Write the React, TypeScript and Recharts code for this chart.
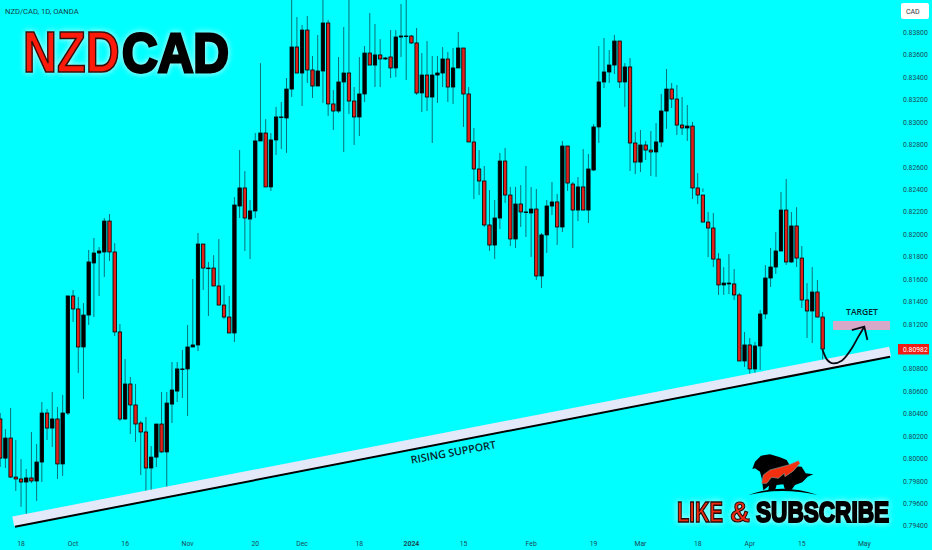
import React from "react";
import { ComposedChart, Bar, Line, XAxis, YAxis, ReferenceArea } from "recharts";

const opens = [0.80354,0.80005,0.80184,0.79836,0.79819,0.79792,0.79828,0.79801,0.79970,0.80407,0.80273,0.80354,0.79953,0.80407,0.81451,0.81335,0.80996,0.81281,0.81745,0.81834,0.81843,0.82119,0.81843,0.81130,0.80354,0.80666,0.80479,0.80318,0.80238,0.79917,0.80014,0.80309,0.80060,0.80487,0.80603,0.80795,0.80800,0.80996,0.81014,0.81914,0.81695,0.81700,0.81540,0.81370,0.81263,0.81121,0.82253,0.82414,0.82137,0.82209,0.82833,0.82904,0.82423,0.82842,0.83042,0.83038,0.83296,0.83671,0.83439,0.83822,0.83466,0.83323,0.83457,0.83885,0.83163,0.83100,0.83359,0.83439,0.83189,0.83047,0.83252,0.83617,0.83510,0.83600,0.83564,0.83582,0.83484,0.83760,0.83765,0.83769,0.83707,0.83261,0.83421,0.83225,0.83421,0.83439,0.83564,0.83314,0.83484,0.83662,0.83252,0.82824,0.82583,0.82476,0.82084,0.81905,0.82146,0.82654,0.82351,0.81959,0.82271,0.82195,0.82191,0.82226,0.81629,0.81995,0.82253,0.82289,0.82066,0.82788,0.82449,0.82217,0.82423,0.82217,0.82574,0.82958,0.83359,0.83448,0.83510,0.83724,0.83359,0.83493,0.82815,0.82645,0.82797,0.82752,0.82735,0.82824,0.83100,0.83296,0.83207,0.82975,0.82949,0.82966,0.82414,0.82351,0.82110,0.82057,0.81780,0.81549,0.81558,0.81558,0.81460,0.80871,0.81014,0.80800,0.81005,0.81290,0.81611,0.81709,0.81852,0.82217,0.81754,0.82075,0.81789,0.81415,0.81317,0.81486,0.81263];
const highs = [0.80407,0.80264,0.80452,0.80167,0.79996,0.79908,0.80238,0.80131,0.80505,0.80443,0.80595,0.80461,0.80568,0.81451,0.81504,0.81442,0.81388,0.81861,0.81968,0.81887,0.82146,0.82182,0.81923,0.81201,0.80889,0.80728,0.80666,0.80336,0.80372,0.80113,0.80309,0.80595,0.80595,0.80862,0.80862,0.80969,0.81192,0.81602,0.82012,0.81914,0.81754,0.81816,0.81959,0.81549,0.81451,0.82333,0.82752,0.82565,0.82307,0.82904,0.83528,0.83029,0.82904,0.83136,0.83180,0.83394,0.84090,0.83938,0.83867,0.83947,0.83591,0.83778,0.84090,0.83912,0.83287,0.83582,0.83849,0.84090,0.83314,0.83582,0.83680,0.83974,0.83876,0.83742,0.83582,0.83822,0.83822,0.84054,0.84090,0.83778,0.83840,0.83617,0.83724,0.83591,0.83591,0.83671,0.83626,0.83662,0.83805,0.83662,0.83314,0.82949,0.82752,0.82610,0.82396,0.82307,0.82726,0.82770,0.82423,0.82423,0.82440,0.82610,0.82423,0.82405,0.82012,0.82307,0.82467,0.82360,0.82833,0.82788,0.82467,0.82512,0.82761,0.82717,0.82984,0.83680,0.83751,0.83644,0.83778,0.83724,0.83528,0.83573,0.82913,0.82931,0.82833,0.82922,0.82993,0.83252,0.83475,0.83350,0.83332,0.83225,0.83154,0.83002,0.82547,0.82378,0.82200,0.82191,0.81834,0.81709,0.81825,0.81691,0.81477,0.81130,0.81076,0.81040,0.81326,0.81727,0.81879,0.82021,0.82378,0.82494,0.82200,0.82244,0.81896,0.81566,0.81709,0.81593,0.81308];
const lows = [0.79926,0.79917,0.79828,0.79712,0.79571,0.79426,0.79783,0.79623,0.79792,0.80167,0.80104,0.79819,0.79845,0.80389,0.81219,0.80764,0.80532,0.81192,0.81263,0.81451,0.81620,0.81763,0.81094,0.80336,0.80345,0.80220,0.80149,0.79854,0.79667,0.79712,0.79926,0.80051,0.79747,0.80318,0.80505,0.80541,0.80381,0.80996,0.80960,0.81504,0.81272,0.81540,0.81370,0.81245,0.81121,0.81040,0.82146,0.81852,0.81780,0.82146,0.82833,0.82423,0.82387,0.82708,0.82761,0.82726,0.83225,0.83439,0.83145,0.83350,0.83216,0.83323,0.83172,0.83056,0.82931,0.83082,0.82735,0.83073,0.82797,0.82877,0.83180,0.83510,0.83314,0.83314,0.83555,0.83394,0.83403,0.83582,0.83377,0.83698,0.83243,0.83091,0.83100,0.82815,0.83172,0.83314,0.83180,0.83163,0.83484,0.82958,0.82824,0.82316,0.82351,0.82066,0.81852,0.81780,0.82048,0.82280,0.81896,0.81879,0.82066,0.81977,0.81798,0.81593,0.81522,0.81834,0.82173,0.81905,0.82021,0.82387,0.81879,0.82119,0.82217,0.82101,0.82565,0.82815,0.83305,0.83350,0.83430,0.83305,0.83136,0.82565,0.82538,0.82556,0.82663,0.82521,0.82512,0.82779,0.82940,0.83127,0.82886,0.82886,0.82833,0.82316,0.82271,0.82410,0.81798,0.81709,0.81460,0.81460,0.81468,0.81415,0.80871,0.80818,0.80675,0.80710,0.80791,0.81245,0.81531,0.81647,0.81852,0.81727,0.81745,0.81709,0.81344,0.81076,0.81031,0.81263,0.80809];
const closes = [0.80005,0.80184,0.79836,0.79819,0.79792,0.79828,0.79801,0.79970,0.80407,0.80273,0.80354,0.79953,0.80407,0.81451,0.81335,0.80996,0.81281,0.81754,0.81834,0.81852,0.82119,0.81843,0.81130,0.80354,0.80666,0.80479,0.80309,0.80238,0.79917,0.80014,0.80309,0.80060,0.80496,0.80612,0.80800,0.80800,0.80996,0.81014,0.81914,0.81700,0.81700,0.81540,0.81370,0.81263,0.81121,0.82262,0.82414,0.82146,0.82209,0.82833,0.82904,0.82423,0.82842,0.83047,0.83047,0.83296,0.83671,0.83439,0.83822,0.83466,0.83323,0.83457,0.83885,0.83163,0.83100,0.83359,0.83439,0.83189,0.83047,0.83252,0.83617,0.83510,0.83600,0.83564,0.83573,0.83484,0.83760,0.83769,0.83769,0.83707,0.83261,0.83421,0.83225,0.83421,0.83439,0.83564,0.83314,0.83484,0.83662,0.83252,0.82824,0.82583,0.82476,0.82084,0.81905,0.82146,0.82654,0.82351,0.81959,0.82271,0.82200,0.82200,0.82226,0.81629,0.81995,0.82253,0.82289,0.82066,0.82788,0.82458,0.82217,0.82423,0.82217,0.82583,0.82958,0.83359,0.83448,0.83510,0.83724,0.83359,0.83493,0.82815,0.82645,0.82797,0.82752,0.82735,0.82824,0.83100,0.83296,0.83207,0.82975,0.82949,0.82966,0.82414,0.82351,0.82110,0.82057,0.81780,0.81549,0.81566,0.81566,0.81460,0.80871,0.81014,0.80800,0.81005,0.81290,0.81611,0.81709,0.81852,0.82217,0.81754,0.82075,0.81789,0.81415,0.81317,0.81486,0.81263,0.80978];

const tickIndexes = [4,14,24,36,49,58,69,79,89,102,114,123,134,144,154,166];
const tickLabels = ["18","Oct","16","Nov","20","Dec","18","2024","15","Feb","19","Mar","18","Apr","15","May"];
const priceTicks = [0.794,0.796,0.798,0.8,0.802,0.804,0.806,0.808,0.812,0.814,0.816,0.818,0.82,0.822,0.824,0.826,0.828,0.83,0.832,0.834,0.836,0.838];
const lastPrice = 0.80982;

const supportBand = [{ i: 2.5, p: 0.7944 }, { i: 170.95, p: 0.80955 }];
const supportLine = [{ i: 2.84, p: 0.79393 }, { i: 170.95, p: 0.80909 }];
const arrowCurve = [
  { i: 157.95, p: 0.80975 },
  { i: 158.8, p: 0.80886 },
  { i: 160.05, p: 0.8085 },
  { i: 161.67, p: 0.80874 },
  { i: 163.6, p: 0.80984 },
  { i: 164.86, p: 0.81088 },
  { i: 166.0, p: 0.81177 },
];
const arrowHead = [
  { i: 163.6, p: 0.81147 },
  { i: 166.0, p: 0.81177 },
  { i: 166.6, p: 0.81058 },
];
const target = { i1: 160, i2: 170.95, p1: 0.81147, p2: 0.81228 };

const data = opens.map((o, i) => ({
  i,
  range: [lows[i], highs[i]],
}));

const BODY_WIDTH = 3.4;

const Candle = (props: any) => {
  const { x, y, width, height, index: k } = props;
  const open = opens[k];
  const close = closes[k];
  const high = highs[k];
  const low = lows[k];
  const span = high - low || 1e-6;
  const yOf = (v: number) => y + ((high - v) / span) * height;
  const cx = x + width / 2;
  const up = close >= open;
  const a = yOf(open);
  const b = yOf(close);
  const top = Math.min(a, b);
  const bot = Math.max(a, b);
  return (
    <g>
      <line x1={cx} x2={cx} y1={y} y2={y + height} stroke="#0b6f78" strokeWidth={1} />
      <rect
        x={cx - BODY_WIDTH / 2}
        y={top}
        width={BODY_WIDTH}
        height={Math.max(bot - top, 0.6)}
        fill={up ? "#000000" : "#e0201a"}
        stroke="#000000"
        strokeWidth={0.8}
      />
    </g>
  );
};

const TimeTick = (props: any) => {
  const { x, y, payload } = props;
  const k = tickIndexes.indexOf(payload.value);
  const label = tickLabels[k];
  return (
    <text
      x={x}
      y={y + 8}
      textAnchor="middle"
      fontFamily="Roboto, sans-serif"
      fontSize={6.8}
      fontWeight={label === "2024" ? 700 : 400}
      fill="#1d4a55"
    >
      {label}
    </text>
  );
};

const LOGO_FONT = "Liberation Sans, sans-serif";

export default function App() {
  return (
    <div style={{ position: "absolute", left: 0, top: 0, width: 932, height: 550, background: "#00ffff", overflow: "hidden" }}>
      <ComposedChart width={932} height={550} data={data} margin={{ top: 0, right: 0, bottom: 0, left: 0 }}>
        <XAxis
          dataKey="i"
          type="number"
          domain={[-0.04, 171.9]}
          allowDataOverflow
          ticks={tickIndexes}
          interval={0}
          height={20}
          axisLine={false}
          tickLine={false}
          tick={<TimeTick />}
        />
        <YAxis
          orientation="right"
          width={37}
          domain={[0.79364, 0.8409]}
          allowDataOverflow
          ticks={priceTicks}
          interval={0}
          axisLine={false}
          tickLine={false}
          tickMargin={2}
          tick={{ fontSize: 6.8, fontFamily: "Roboto, sans-serif", fill: "#1d4a55" }}
          tickFormatter={(v: number) => v.toFixed(5)}
        />
        <Line data={supportBand} dataKey="p" stroke="#e4e9fa" strokeWidth={10} dot={false} activeDot={false} isAnimationActive={false} />
        <Line data={supportLine} dataKey="p" stroke="#000000" strokeWidth={2} dot={false} activeDot={false} isAnimationActive={false} />
        <ReferenceArea x1={target.i1} x2={target.i2} y1={target.p1} y2={target.p2} fill="#d8a8c8" fillOpacity={1} stroke="none" />
        <Bar dataKey="range" barSize={4} shape={<Candle />} isAnimationActive={false} />
        <Line data={arrowCurve} dataKey="p" type="monotone" stroke="#0a0a14" strokeWidth={1.8} dot={false} activeDot={false} isAnimationActive={false} />
        <Line data={arrowHead} dataKey="p" stroke="#0a0a14" strokeWidth={1.8} dot={false} activeDot={false} isAnimationActive={false} />
      </ComposedChart>

      <svg width={932} height={550} style={{ position: "absolute", left: 0, top: 0, pointerEvents: "none" }}>
        <text x={5} y={13.5} fontFamily="Roboto, sans-serif" fontSize={7.6} fill="#123f4a">NZD/CAD, 1D, OANDA</text>

        <g style={{ filter: "drop-shadow(0 0 3px #d8ffff)" }} fontFamily={LOGO_FONT} fontWeight={700}>
          <text transform="translate(23,71.5) scale(1,1.22)" fontSize={47} fill="#ff1a0a" stroke="#30100c" strokeWidth={1.4}>NZD</text>
          <text transform="translate(122,71.5) scale(1,1.13)" fontSize={49.4} fill="#000000" stroke="#000000" strokeWidth={2.6}>CAD</text>
        </g>

        <rect x={901} y={3} width={28} height={16} rx={2} fill="#ffffff" />
        <text x={906} y={14} fontFamily="Roboto, sans-serif" fontSize={7} fill="#303642">CAD</text>

        <rect x={898} y={344} width={31} height={10.5} fill="#f21c14" />
        <text x={903} y={351.8} fontFamily="Roboto, sans-serif" fontSize={6.8} fill="#ffffff">{lastPrice.toFixed(5)}</text>

        <text x={862} y={315} textAnchor="middle" fontFamily="Open Sans, sans-serif" fontWeight={600} fontSize={8.6} fill="#06252c">TARGET</text>
        <text
          x={454}
          y={456}
          textAnchor="middle"
          transform="rotate(-10.5 454 456)"
          fontFamily="Open Sans, sans-serif"
          fontWeight={600}
          fontSize={10.7}
          fill="#06252c"
        >
          RISING SUPPORT
        </text>

        <g transform="translate(745,445) scale(0.3333)">
          <path d="M10,150 Q110,112 218,150 Q110,126 10,150 Z" fill="#000" />
          <path d="M22,72 L30,50 L48,32 L75,28 L105,37 L125,45 L135,62 L170,65 L182,85 L205,88 L188,95 L172,112 L150,120 L140,134 L120,134 L115,118 L95,120 L90,136 L70,136 L72,122 L55,136 L50,100 L45,80 L30,70 Z" fill="#000" />
          <path d="M50,115 L55,90 L75,75 L130,60 L160,47 L165,55 L145,78 L120,95 L118,85 L100,100 L80,97 L65,115 Z" fill="#f23010" stroke="#8a9a9a" strokeWidth={2} />
        </g>

        <g style={{ filter: "drop-shadow(0 0 3px #d8ffff)" }} fontFamily={LOGO_FONT} fontWeight={700}>
          <text transform="translate(677,522) scale(1,1.45)" fontSize={20.2} fill="#ee2a10" stroke="#200a08" strokeWidth={1}>LIKE</text>
          <text transform="translate(730,522) scale(1,1.06)" fontSize={27.7} fill="#ee2a10" stroke="#200a08" strokeWidth={1}>&amp;</text>
          <text transform="translate(756,522) scale(1,1.29)" fontSize={22.6} fill="#000" stroke="#000" strokeWidth={1.6}>SUBSCRIBE</text>
        </g>
      </svg>
    </div>
  );
}
